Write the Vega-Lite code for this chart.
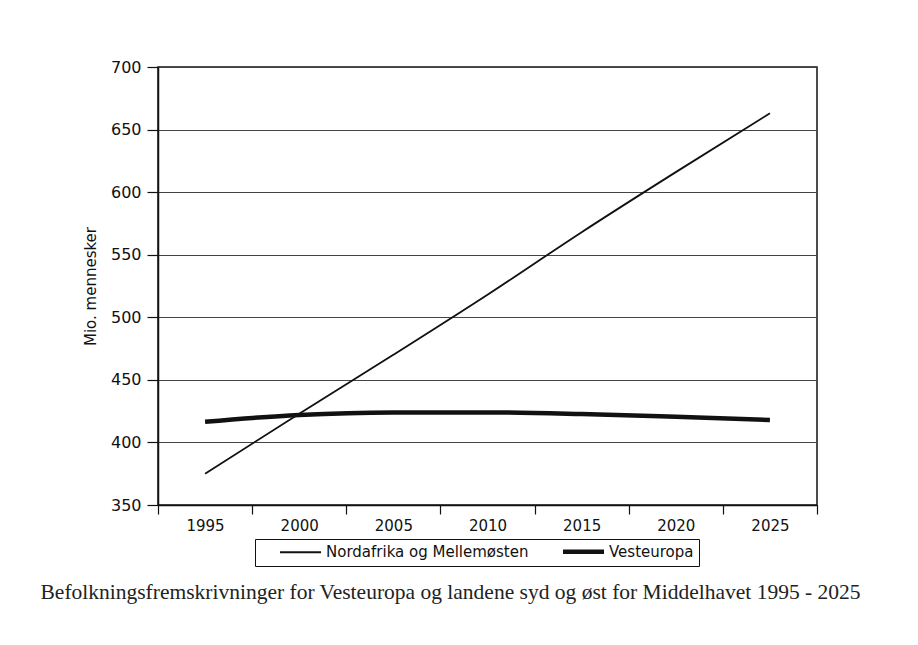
{
  "$schema": "https://vega.github.io/schema/vega-lite/v6.json",
  "width": 659,
  "height": 438,
  "autosize": {"type": "none"},
  "padding": {"left": 158, "top": 67, "right": 101, "bottom": 140},
  "background": "white",
  "data": {
    "values": [
      {"year": "1995", "series": "Nordafrika og Mellemøsten", "value": 375},
      {"year": "2000", "series": "Nordafrika og Mellemøsten", "value": 423},
      {"year": "2005", "series": "Nordafrika og Mellemøsten", "value": 470},
      {"year": "2010", "series": "Nordafrika og Mellemøsten", "value": 518},
      {"year": "2015", "series": "Nordafrika og Mellemøsten", "value": 568},
      {"year": "2020", "series": "Nordafrika og Mellemøsten", "value": 616},
      {"year": "2025", "series": "Nordafrika og Mellemøsten", "value": 663},
      {"year": "1995", "series": "Vesteuropa", "value": 416.5},
      {"year": "2000", "series": "Vesteuropa", "value": 422},
      {"year": "2005", "series": "Vesteuropa", "value": 424},
      {"year": "2010", "series": "Vesteuropa", "value": 424},
      {"year": "2015", "series": "Vesteuropa", "value": 422.7},
      {"year": "2020", "series": "Vesteuropa", "value": 420.5},
      {"year": "2025", "series": "Vesteuropa", "value": 418}
    ]
  },
  "mark": {"type": "line", "interpolate": "monotone", "color": "#111"},
  "encoding": {
    "x": {
      "field": "year",
      "type": "ordinal",
      "bandPosition": 0.5,
      "scale": {"type": "band", "paddingInner": 0, "paddingOuter": 0},
      "axis": {
        "title": null,
        "labelAngle": 0,
        "tickBand": "extent",
        "grid": false,
        "domainColor": "#111",
        "domainWidth": 1.5,
        "tickColor": "#111",
        "tickWidth": 1.2,
        "tickSize": 9,
        "labelPadding": 4,
        "labelFont": "DejaVu Sans",
        "labelFontSize": 15,
        "labelColor": "#111"
      }
    },
    "y": {
      "field": "value",
      "type": "quantitative",
      "scale": {"domain": [350, 700], "nice": false, "zero": false},
      "axis": {
        "values": [350, 400, 450, 500, 550, 600, 650, 700],
        "grid": true,
        "gridColor": "#444",
        "gridWidth": 1,
        "domainColor": "#111",
        "domainWidth": 1.5,
        "tickColor": "#111",
        "tickWidth": 1.2,
        "tickSize": 11,
        "labelPadding": 6,
        "labelFont": "DejaVu Sans",
        "labelFontSize": 16,
        "labelColor": "#111",
        "title": "Mio. mennesker",
        "titleFont": "DejaVu Sans",
        "titleFontSize": 15,
        "titleFontWeight": "normal",
        "titleColor": "#111",
        "titlePadding": 12
      }
    },
    "strokeWidth": {
      "field": "series",
      "type": "nominal",
      "scale": {"domain": ["Nordafrika og Mellemøsten", "Vesteuropa"], "range": [1.8, 4.5]},
      "legend": {
        "title": null,
        "orient": "none",
        "legendX": 97,
        "legendY": 472,
        "direction": "horizontal",
        "strokeColor": "#111",
        "padding": 5,
        "symbolType": "M-4.1,0H4.1",
        "symbolSize": 100,
        "symbolOffset": 33,
        "symbolStrokeColor": "#111",
        "labelFont": "DejaVu Sans",
        "labelFontSize": 15,
        "labelColor": "#111",
        "labelLimit": 400,
        "labelOffset": 18,
        "columnPadding": 14
      }
    }
  },
  "title": {
    "text": "Befolkningsfremskrivninger for Vesteuropa og landene syd og øst for Middelhavet 1995 - 2025",
    "orient": "bottom",
    "anchor": "middle",
    "frame": "bounds",
    "font": "Liberation Serif",
    "fontSize": 21.5,
    "fontWeight": "normal",
    "color": "#222",
    "offset": 15
  },
  "config": {
    "view": {"stroke": "#111", "strokeWidth": 1.5}
  }
}
